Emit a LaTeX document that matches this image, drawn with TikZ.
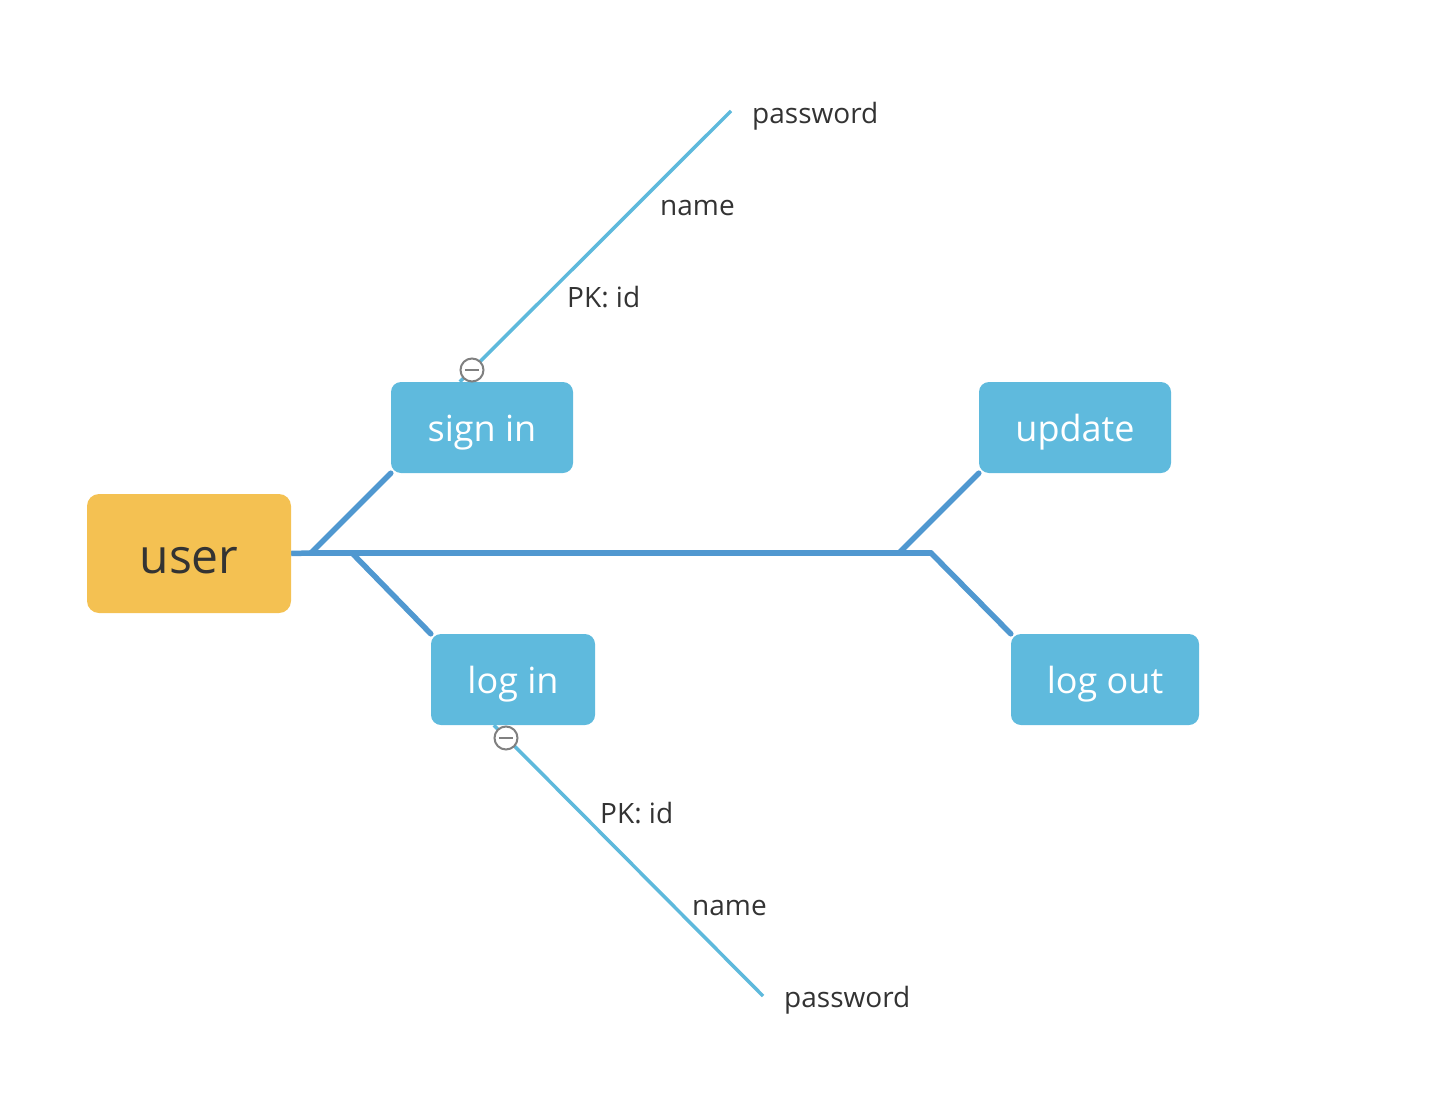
\documentclass[tikz,border=0pt]{standalone}
\usepackage{fontspec}
\setmainfont{Open Sans}
\usepackage{tikz}
\usetikzlibrary{backgrounds}
\definecolor{userfill}{RGB}{244,193,82}
\definecolor{topicfill}{RGB}{95,186,221}
\definecolor{branchcol}{RGB}{80,152,208}
\definecolor{leafcol}{RGB}{94,185,220}
\definecolor{textcol}{RGB}{51,51,51}
\definecolor{foldcol}{RGB}{128,128,128}

\begin{document}
\begin{tikzpicture}[x=1pt,y=-1pt,
  rootbox/.style={fill=userfill, rounded corners=12pt, inner sep=0pt,
    text=textcol, font=\fontsize{48}{56}\selectfont,
    text height=48pt, text depth=9pt},
  topicbox/.style={fill=topicfill, rounded corners=10pt, inner sep=0pt,
    minimum height=91pt, text=white, font=\fontsize{36}{42}\selectfont,
    text height=36pt, text depth=8pt},
  branch/.style={branchcol, line width=5.5pt, line cap=round},
  leaf/.style={leafcol, line width=3.5pt},
  attr/.style={anchor=base west, inner sep=0pt, text=textcol,
    font=\fontsize{28}{34}\selectfont},
  fold/.style={circle, draw=foldcol, fill=white, line width=2pt,
    minimum size=23pt, inner sep=0pt}]
\useasboundingbox (0,0) rectangle (1448,1116);

% topics
\node[rootbox, minimum width=204pt, minimum height=119pt] (user) at (189,553.5) {user};
\node[topicbox, minimum width=182pt] (signin) at (482,427.5) {sign in};
\node[topicbox, minimum width=192pt] (update) at (1075,427.5) {update};
\node[topicbox, minimum width=164pt] (login) at (513,679.5) {log in};
\node[topicbox, minimum width=188pt] (logout) at (1105,679.5) {log out};

% main branch
\coordinate (f1) at (311,553);
\coordinate (f2) at (352,553);
\coordinate (f3) at (899,553);
\coordinate (f4) at (931,553);
\begin{scope}[on background layer]
\draw[branch, line cap=butt] (user.east) -- (f1);
\draw[branch] (f1) -- (f4);
\draw[branch] (f1) -- (signin.south west);
\draw[branch] (f2) -- (login.north west);
\draw[branch] (f3) -- (update.south west);
\draw[branch] (f4) -- (logout.north west);
\end{scope}

% sign in attributes
\coordinate (s0) at ([xshift=69pt]signin.north west);
\coordinate (s1) at (731,111);
\draw[leaf] (s0) -- (s1);
\node[attr] (spk) at (567,307) {PK: id};
\node[attr] (sname) at (660,215) {name};
\node[attr] (spass) at (752,123) {password};
\node[fold] (sfold) at (472,370) {};
\draw[foldcol, line width=2pt] (sfold.center) ++(-7,0) -- ++(14,0);

% log in attributes
\coordinate (l0) at ([xshift=63pt]login.south west);
\coordinate (l1) at (763,996);
\draw[leaf] (l0) -- (l1);
\node[attr] (lpk) at (600,823) {PK: id};
\node[attr] (lname) at (692,915) {name};
\node[attr] (lpass) at (784,1007) {password};
\node[fold] (lfold) at (506,738) {};
\draw[foldcol, line width=2pt] (lfold.center) ++(-7,0) -- ++(14,0);
\end{tikzpicture}
\end{document}
